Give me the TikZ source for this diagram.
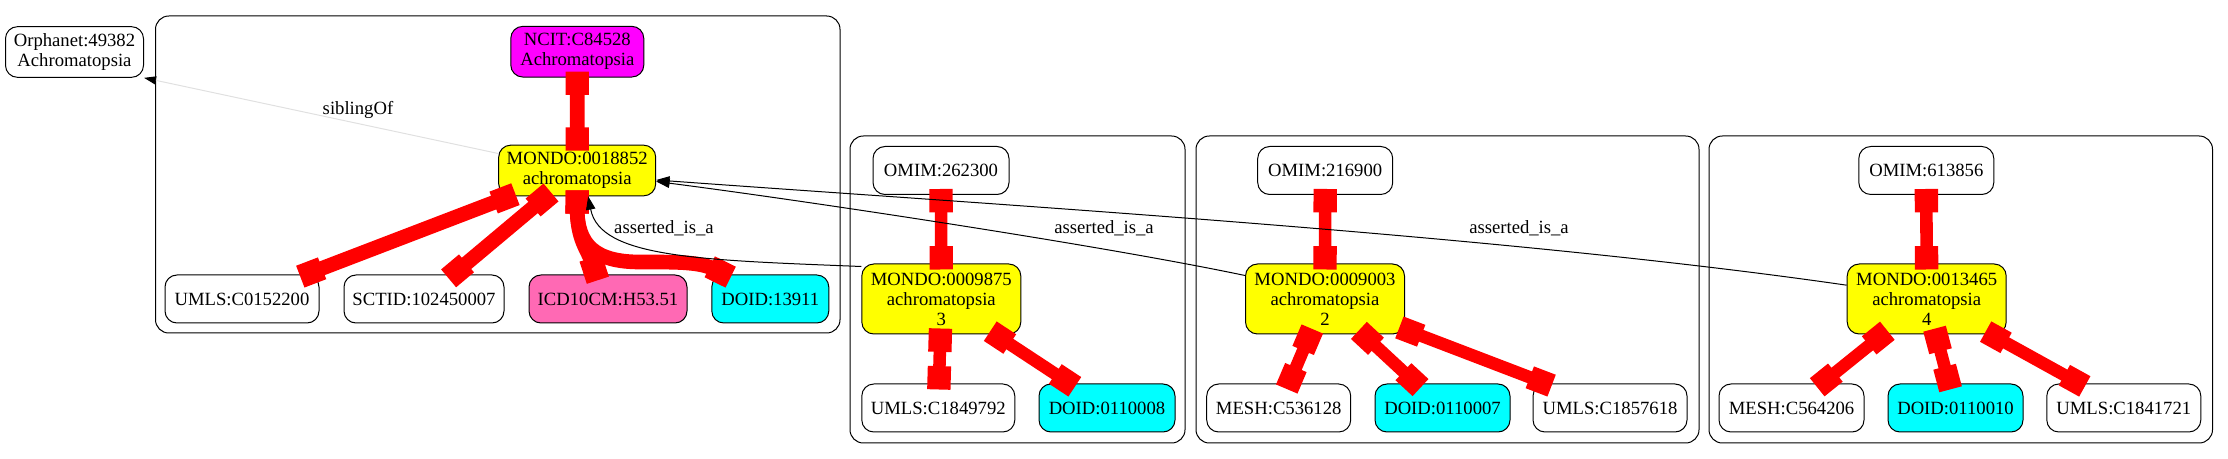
\documentclass[tikz,border=0pt]{standalone}
\usepackage{fontspec}
\setmainfont{Liberation Serif}
\usetikzlibrary{arrows.meta}
\definecolor{gvmagenta}{RGB}{255,0,255}
\definecolor{gvcyan}{RGB}{0,255,255}
\definecolor{gvyellow}{RGB}{255,255,0}
\definecolor{gvpink}{RGB}{255,105,180}
\definecolor{gvred}{RGB}{255,0,0}
\begin{document}
\begin{tikzpicture}[x=0.75pt,y=-0.75pt,
  nd/.style={draw=black, line width=0.75pt, rounded corners=9pt, align=center, inner sep=0pt,
    font=\fontsize{14}{15}\selectfont, minimum height=36pt},
  two/.style={minimum height=38pt},
  three/.style={minimum height=52.5pt},
  mondo/.style={nd, fill=gvyellow},
  doid/.style={nd, fill=gvcyan},
  clus/.style={draw=black, line width=0.75pt, rounded corners=10pt},
  redge/.style={draw=gvred, line width=9.4pt,
    {Square[length=17.5pt,width=17.5pt]}-{Square[length=17.5pt,width=17.5pt]},
    shorten <=-4.5pt, shorten >=-4.5pt},
  redgeB/.style={redge, line width=11pt},
  isa/.style={draw=black, line width=0.75pt, -{Triangle[length=10pt,width=7pt]}},
  sib/.style={draw=black!12, line width=0.75pt, -{Triangle[length=9pt,width=6pt,color=black]}},
  lbl/.style={font=\fontsize{14}{15}\selectfont, inner sep=0pt, anchor=base}
]
\useasboundingbox (0,0) rectangle (2228,459);

% clusters
\draw[clus] (155.5,16) rectangle (840,333);
\draw[clus] (850,136) rectangle (1185,443);
\draw[clus] (1196,136) rectangle (1699,443);
\draw[clus] (1709,136) rectangle (2212.5,443);

% nodes
\node[nd,two,minimum width=103.5pt] (orph) at (74.5,52) {Orphanet:49382\\Achromatopsia};
\node[nd,two,fill=gvmagenta,minimum width=99.75pt] (ncit) at (577.3,51.7) {NCIT:C84528\\Achromatopsia};
\node[mondo,two,minimum width=117.75pt] (m1) at (577.2,170.5) {MONDO:0018852\\achromatopsia};
\node[nd,minimum width=115.5pt] (umls1) at (242,299) {UMLS:C0152200};
\node[nd,minimum width=120pt] (sctid) at (424,299) {SCTID:102450007};
\node[nd,fill=gvpink,minimum width=118.5pt] (icd) at (608,299) {ICD10CM:H53.51};
\node[doid,minimum width=87.75pt] (doid1) at (770.3,299) {DOID:13911};

\node[nd,minimum width=102pt] (omim2) at (941,170.5) {OMIM:262300};
\node[mondo,three,minimum width=119.25pt] (m2) at (941.3,299) {MONDO:0009875\\achromatopsia\\3};
\node[nd,minimum width=114.75pt] (umls2) at (938.3,408) {UMLS:C1849792};
\node[doid,minimum width=102pt] (doid2) at (1107,408) {DOID:0110008};

\node[nd,minimum width=101.25pt] (omim3) at (1325.2,170.5) {OMIM:216900};
\node[mondo,three,minimum width=119.25pt] (m3) at (1325,299) {MONDO:0009003\\achromatopsia\\2};
\node[nd,minimum width=108pt] (mesh3) at (1278.7,408) {MESH:C536128};
\node[doid,minimum width=101.25pt] (doid3) at (1442.5,408) {DOID:0110007};
\node[nd,minimum width=115.5pt] (umls3) at (1610,408) {UMLS:C1857618};

\node[nd,minimum width=101.25pt] (omim4) at (1926.3,170.5) {OMIM:613856};
\node[mondo,three,minimum width=119.25pt] (m4) at (1926.7,299) {MONDO:0013465\\achromatopsia\\4};
\node[nd,minimum width=108.75pt] (mesh4) at (1791.5,408) {MESH:C564206};
\node[doid,minimum width=101.25pt] (doid4) at (1955.5,408) {DOID:0110010};
\node[nd,minimum width=115.5pt] (umls4) at (2123.8,408) {UMLS:C1841721};

% red equivalence edges
\draw[redgeB] (ncit) -- (m1);
\draw[redgeB] (m1) -- (umls1);
\draw[redgeB] (m1) -- (sctid);
\draw[redgeB] (m1.south) .. controls (577,240) and (588,250) .. ([shift={(-12,0)}]icd.north);
\draw[redgeB] (m1.south) .. controls (577,245) and (595,262) .. (640,262)
  .. controls (680,262) and (700,262) .. ([shift={(14,0)}]doid1.north west);

\draw[redge] (omim2) -- (m2);
\draw[redge] (m2) -- (umls2);
\draw[redge] (m2) -- (doid2);

\draw[redge] (omim3) -- (m3);
\draw[redge] (m3) -- (mesh3);
\draw[redge] (m3) -- (doid3);
\draw[redge] (m3) -- (umls3);

\draw[redge] (omim4) -- (m4);
\draw[redge] (m4) -- (mesh4);
\draw[redge] (m4) -- (doid4);
\draw[redge] (m4) -- (umls4);

% asserted_is_a edges
\draw[isa] ([shift={(0,3)}]m2.north west) .. controls (700,260) and (600,258) .. ([shift={(11,0)}]m1.south);
\draw[isa] ([shift={(0,12)}]m3.north west) .. controls (1100,245) and (800,200) .. ([shift={(0,11)}]m1.east);
\draw[isa] ([shift={(0,21.7)}]m4.north west) .. controls (1500,235) and (1000,205) .. ([shift={(0,9.5)}]m1.east);

% siblingOf edge
\draw[sib] ([shift={(0,-17)}]m1.west) -- (orph.south east);

% labels
\node[lbl] (lsib) at (358,115) {siblingOf};
\node[lbl] (lisa1) at (664,234) {asserted\_is\_a};
\node[lbl] (lisa2) at (1104,234) {asserted\_is\_a};
\node[lbl] (lisa3) at (1519,234) {asserted\_is\_a};
\end{tikzpicture}
\end{document}
